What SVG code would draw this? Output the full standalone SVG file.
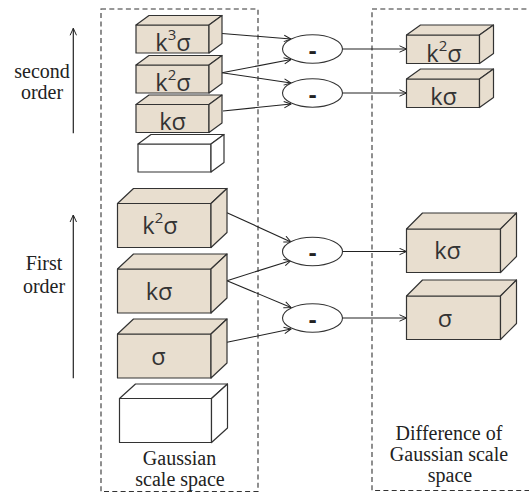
<svg xmlns="http://www.w3.org/2000/svg" width="529" height="494" viewBox="0 0 529 494">
  <style>
    .frame { fill: none; stroke: #333; stroke-width: 1.1; stroke-dasharray: 5 3.3; }
    .face { fill: #E8DECF; stroke: #333; stroke-width: 1.2; stroke-linejoin: round; }
    .blank .face { fill: #FFFFFF; }
    .lbl { font-family: "Open Sans", "DejaVu Sans", sans-serif; font-size: 23.5px; fill: #333; text-anchor: middle; }
    .sup { font-size: 15px; }
    .op { fill: #FFFFFF; stroke: #333; stroke-width: 1.1; }
    .minus { font-family: "Open Sans", "DejaVu Sans", sans-serif; font-size: 24px; font-weight: bold; fill: #222; text-anchor: middle; }
    .cap { font-family: "Liberation Serif", "Times New Roman", serif; font-size: 20px; fill: #222; text-anchor: middle; }
    .link { fill: none; stroke: #222; stroke-width: 1.1; marker-end: url(#head); }
    .axis { fill: none; stroke: #222; stroke-width: 1.2; marker-end: url(#head); }
  </style>
  <defs>
    <marker id="head" viewBox="0 0 8 8" refX="7.5" refY="4" markerWidth="8" markerHeight="8" markerUnits="userSpaceOnUse" orient="auto">
      <path d="M0.5,0.8 L7.5,4 L0.5,7.2" fill="none" stroke="#222" stroke-width="1"/>
    </marker>
  </defs>

  <rect width="529" height="494" fill="#FFFFFF"/>

  <!-- dashed frames -->
  <g id="frames">
    <rect class="frame" x="101" y="9" width="157" height="482.5"/>
    <rect class="frame" x="372" y="9" width="170" height="481.5"/>
  </g>

  <!-- order axes -->
  <g id="axes">
    <line class="axis" x1="73.3" y1="133.3" x2="73.3" y2="28.3"/>
    <line class="axis" x1="73.3" y1="378.3" x2="73.3" y2="215"/>
    <text class="cap" x="42" y="78">second</text>
    <text class="cap" x="42" y="99">order</text>
    <text class="cap" x="44" y="270">First</text>
    <text class="cap" x="44" y="293">order</text>
  </g>

  <!-- connectors -->
  <g id="connectors">
    <line class="link" x1="222" y1="33.5" x2="291" y2="39"/>
    <line class="link" x1="222" y1="72.7" x2="291" y2="59.5"/>
    <line class="link" x1="222" y1="72.7" x2="291" y2="83"/>
    <line class="link" x1="223" y1="111" x2="291" y2="104"/>
    <line class="link" x1="342.5" y1="49" x2="406.5" y2="49"/>
    <line class="link" x1="342.5" y1="93" x2="406.5" y2="93"/>
    <line class="link" x1="227" y1="212.7" x2="291" y2="242"/>
    <line class="link" x1="227" y1="280.7" x2="291" y2="260.5"/>
    <line class="link" x1="227" y1="280.7" x2="291" y2="307.5"/>
    <line class="link" x1="227" y1="342.3" x2="291" y2="329"/>
    <line class="link" x1="342.5" y1="251.5" x2="406.5" y2="251.5"/>
    <line class="link" x1="342.5" y1="318" x2="406.5" y2="318"/>
  </g>

  <!-- Gaussian scale space, second order -->
  <g id="g2-k3s">
    <rect class="face" x="136" y="25" width="73" height="28"/>
    <polygon class="face" points="136,25 149,15.5 222,15.5 209,25"/>
    <polygon class="face" points="209,25 222,15.5 222,43.5 209,53"/>
    <text class="lbl" x="173" y="50.5">k<tspan class="sup" dy="-11">3</tspan><tspan dy="11">σ</tspan></text>
  </g>
  <g id="g2-k2s">
    <rect class="face" x="136" y="65" width="73" height="28"/>
    <polygon class="face" points="136,65 149,55.5 222,55.5 209,65"/>
    <polygon class="face" points="209,65 222,55.5 222,83.5 209,93"/>
    <text class="lbl" x="173" y="90.5">k<tspan class="sup" dy="-11">2</tspan><tspan dy="11">σ</tspan></text>
  </g>
  <g id="g2-ks">
    <rect class="face" x="136" y="104.5" width="73" height="28"/>
    <polygon class="face" points="136,104.5 149,95 222,95 209,104.5"/>
    <polygon class="face" points="209,104.5 222,95 222,123 209,132.5"/>
    <text class="lbl" x="172.5" y="130">kσ</text>
  </g>
  <g id="g2-base" class="blank">
    <rect class="face" x="138" y="144" width="73" height="28"/>
    <polygon class="face" points="138,144 151,134.5 224,134.5 211,144"/>
    <polygon class="face" points="211,144 224,134.5 224,162.5 211,172"/>
  </g>

  <!-- Gaussian scale space, first order -->
  <g id="g1-k2s">
    <rect class="face" x="117.5" y="203.5" width="93.5" height="44"/>
    <polygon class="face" points="117.5,203.5 133.5,188.5 227,188.5 211,203.5"/>
    <polygon class="face" points="211,203.5 227,188.5 227,232.5 211,247.5"/>
    <text class="lbl" x="160" y="234">k<tspan class="sup" dy="-11">2</tspan><tspan dy="11">σ</tspan></text>
  </g>
  <g id="g1-ks">
    <rect class="face" x="117.5" y="269" width="93.5" height="44"/>
    <polygon class="face" points="117.5,269 133.5,254 227,254 211,269"/>
    <polygon class="face" points="211,269 227,254 227,298 211,313"/>
    <text class="lbl" x="159" y="300">kσ</text>
  </g>
  <g id="g1-s">
    <rect class="face" x="117.5" y="334" width="93.5" height="44"/>
    <polygon class="face" points="117.5,334 133.5,319 227,319 211,334"/>
    <polygon class="face" points="211,334 227,319 227,363 211,378"/>
    <text class="lbl" x="158.5" y="365">σ</text>
  </g>
  <g id="g1-base" class="blank">
    <rect class="face" x="119.5" y="398.5" width="92" height="44"/>
    <polygon class="face" points="119.5,398.5 135.5,384 227.5,384 211.5,398.5"/>
    <polygon class="face" points="211.5,398.5 227.5,384 227.5,428 211.5,442.5"/>
  </g>
  <g id="gauss-caption">
    <text class="cap" x="179.5" y="465">Gaussian</text>
    <text class="cap" x="180" y="486">scale space</text>
  </g>

  <!-- subtraction operators -->
  <g id="sub-2a">
    <ellipse class="op" cx="312.5" cy="49" rx="30" ry="14.3"/>
    <text class="minus" x="312.5" y="58.5">-</text>
  </g>
  <g id="sub-2b">
    <ellipse class="op" cx="312.5" cy="93" rx="30" ry="14.3"/>
    <text class="minus" x="312.5" y="102.5">-</text>
  </g>
  <g id="sub-1a">
    <ellipse class="op" cx="312.5" cy="251.5" rx="30" ry="14.3"/>
    <text class="minus" x="312.5" y="261">-</text>
  </g>
  <g id="sub-1b">
    <ellipse class="op" cx="312.5" cy="318" rx="30" ry="14.3"/>
    <text class="minus" x="312.5" y="327.5">-</text>
  </g>

  <!-- Difference of Gaussian scale space -->
  <g id="d2-k2s">
    <rect class="face" x="406.5" y="35" width="73" height="28.5"/>
    <polygon class="face" points="406.5,35 420.5,25 493.5,25 479.5,35"/>
    <polygon class="face" points="479.5,35 493.5,25 493.5,53.5 479.5,63.5"/>
    <text class="lbl" x="444" y="62">k<tspan class="sup" dy="-11">2</tspan><tspan dy="11">σ</tspan></text>
  </g>
  <g id="d2-ks">
    <rect class="face" x="406.5" y="79" width="73" height="28.5"/>
    <polygon class="face" points="406.5,79 420.5,69 493.5,69 479.5,79"/>
    <polygon class="face" points="479.5,79 493.5,69 493.5,97.5 479.5,107.5"/>
    <text class="lbl" x="443.5" y="105">kσ</text>
  </g>
  <g id="d1-ks">
    <rect class="face" x="406.5" y="229" width="94" height="43.5"/>
    <polygon class="face" points="406.5,229 422.5,213 516.5,213 500.5,229"/>
    <polygon class="face" points="500.5,229 516.5,213 516.5,256.5 500.5,272.5"/>
    <text class="lbl" x="447.5" y="259">kσ</text>
  </g>
  <g id="d1-s">
    <rect class="face" x="406.5" y="296" width="94" height="43.5"/>
    <polygon class="face" points="406.5,296 422.5,280 516.5,280 500.5,296"/>
    <polygon class="face" points="500.5,296 516.5,280 516.5,323.5 500.5,339.5"/>
    <text class="lbl" x="445" y="326.5">σ</text>
  </g>
  <g id="dog-caption">
    <text class="cap" x="449" y="440">Difference of</text>
    <text class="cap" x="449" y="461">Gaussian scale</text>
    <text class="cap" x="450" y="481.5">space</text>
  </g>
</svg>
